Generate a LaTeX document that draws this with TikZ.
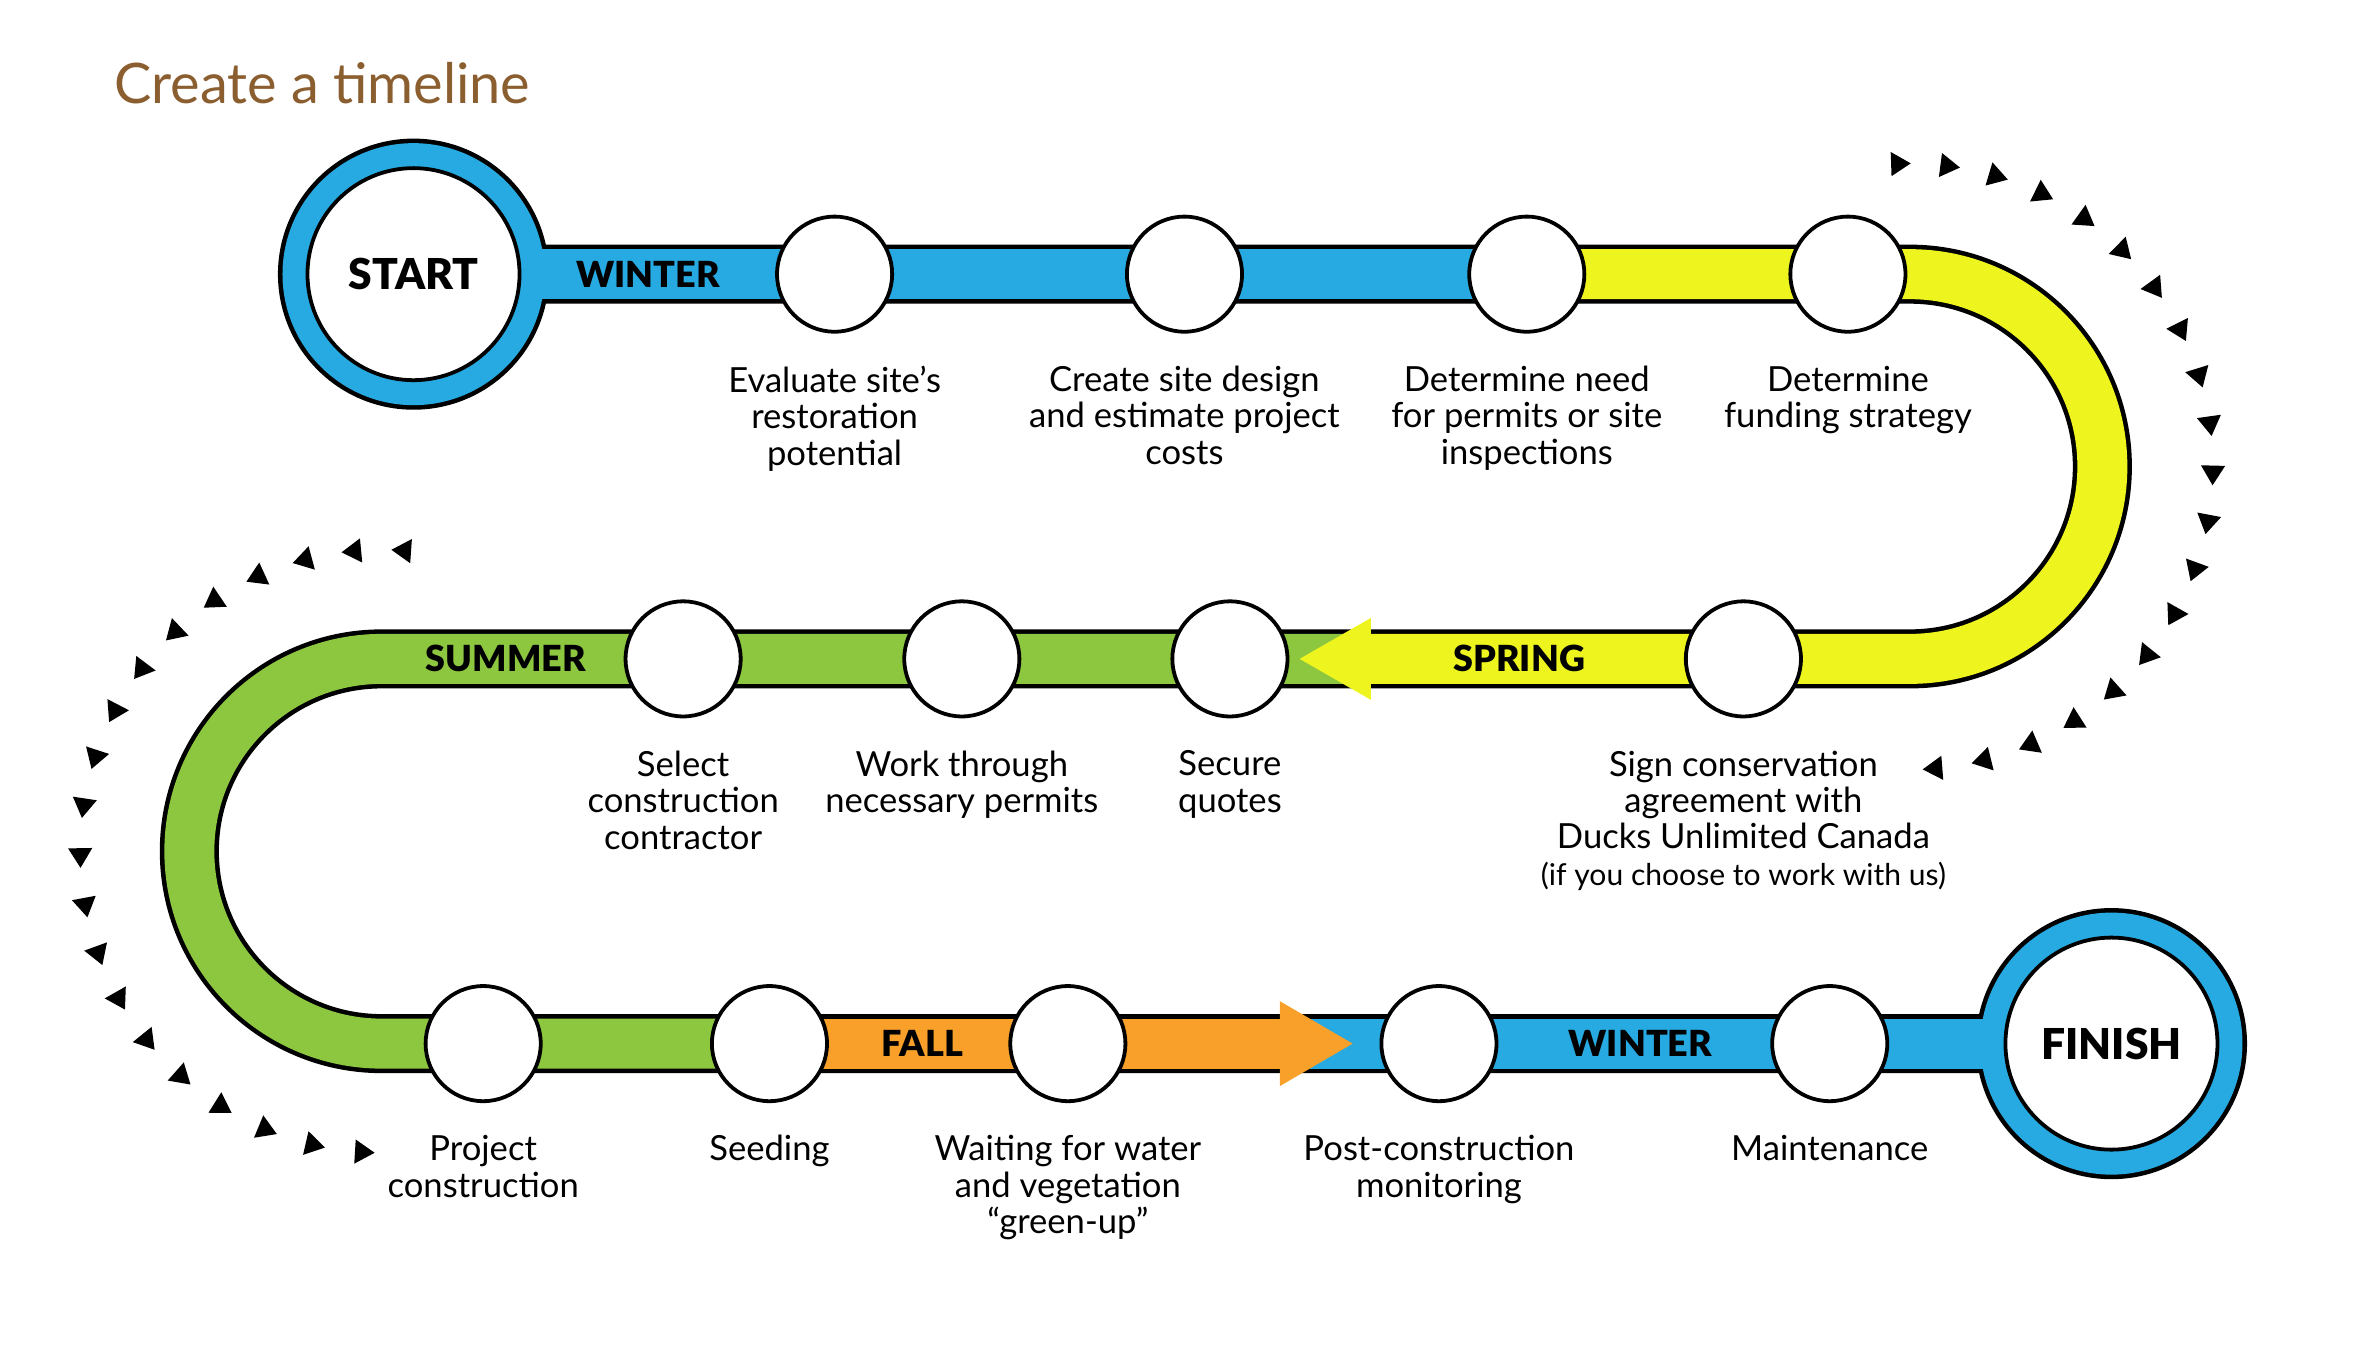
\documentclass[tikz,border=0pt]{standalone}
\usepackage{fontspec}
\setmainfont{Lato}
\newfontfamily\heavyfont{Lato Black}
\usetikzlibrary{positioning,backgrounds}

\definecolor{winterblue}{RGB}{39,170,225}
\definecolor{springyellow}{RGB}{238,245,30}
\definecolor{summergreen}{RGB}{141,198,63}
\definecolor{fallorange}{RGB}{248,160,42}
\definecolor{titlebrown}{RGB}{139,94,48}

\begin{document}
\begin{tikzpicture}
[x=0.2mm, y=0.2mm,
% STYLES
milestone/.style={circle, draw, line width=0.5mm, fill=white, inner sep=0pt, minimum size=15.2mm},
endpoint/.style={circle, draw, line width=0.5mm, fill=white, inner sep=0pt, minimum size=28mm, font=\fontsize{16}{18}\selectfont\heavyfont},
desc/.style={align=center, inner sep=0pt, font=\fontsize{13}{13.7}\selectfont},
season/.style={font=\fontsize{13.5}{15}\selectfont\heavyfont},
% the track: a black band below, the season colour on top of it
trackline/.style={line width=7.8mm, black},
trackfill/.style={line width=6.6mm},
dart/.style={fill=black}]

\useasboundingbox (0,0) rectangle (1568,-890);

\node[anchor=west, inner sep=0pt, text=titlebrown, font=\fontsize{21}{24}\selectfont] (title) at (75,-55) {Create a timeline};

% Ends
\node[endpoint] (start) at (273,-181) {START};
\node[endpoint] (finish) at (1394,-689) {FINISH};

% Top row
\node[milestone] (c1) at (551,-181) {};
\node[milestone] (c2) at (782,-181) {};
\node[milestone] (c3) at (1008,-181) {};
\node[milestone] (c4) at (1220,-181) {};
% Middle row
\node[milestone] (c5) at (1151,-435) {};
\node[milestone] (c6) at (812,-435) {};
\node[milestone] (c7) at (635,-435) {};
\node[milestone] (c8) at (451,-435) {};
% Bottom row
\node[milestone] (c9) at (319,-689) {};
\node[milestone] (c10) at (508,-689) {};
\node[milestone] (c11) at (705,-689) {};
\node[milestone] (c12) at (950,-689) {};
\node[milestone] (c13) at (1208,-689) {};

% Texts under the circles
\node[desc, below=4.2mm of c1] (c1-text) {Evaluate site’s\\restoration\\potential};
\node[desc, below=4.2mm of c2] (c2-text) {Create site design\\and estimate project\\costs};
\node[desc, below=4.2mm of c3] (c3-text) {Determine need\\for permits or site\\inspections};
\node[desc, below=4.2mm of c4] (c4-text) {Determine\\funding strategy};
\node[desc, below=4.2mm of c5] (c5-text) {Sign conservation\\agreement with\\Ducks Unlimited Canada\\{\fontsize{11.3}{12}\selectfont(if you choose to work with us)}};
\node[desc, below=4.2mm of c6] (c6-text) {Secure\\quotes};
\node[desc, below=4.2mm of c7] (c7-text) {Work through\\necessary permits};
\node[desc, below=4.2mm of c8] (c8-text) {Select\\construction\\contractor};
\node[desc, below=4.2mm of c9] (c9-text) {Project\\construction};
\node[desc, below=4.2mm of c10] (c10-text) {Seeding};
\node[desc, below=4.2mm of c11] (c11-text) {Waiting for water\\and vegetation\\“green-up”};
\node[desc, below=4.2mm of c12] (c12-text) {Post-construction\\monitoring};
\node[desc, below=4.2mm of c13] (c13-text) {Maintenance};

% Seasons
\node[season] (winter-a) at (428,-181) {WINTER};
\node[season] (spring) at (1003,-435) {SPRING};
\node[season] (summer) at (334,-435) {SUMMER};
\node[season] (fall) at (609,-689) {FALL};
\node[season] (winter-b) at (1083,-689) {WINTER};

\coordinate (turnR) at (1261,-181);
\coordinate (turnL) at (252,-435);
\coordinate (springtail) at (905,-435);
\coordinate (fallhead) at (845,-689);
\coordinate (rc) at (1261,-308);
\coordinate (lc) at (252,-562);

%%%%%%%%%%%%%%%%

\begin{scope}[on background layer]
\fill (start.center) circle (89.5) (finish.center) circle (89.5);
\draw[trackline] (start.center) -- (turnR) arc[start angle=90, end angle=-90, radius=127]
  -- (turnL) arc[start angle=90, end angle=270, radius=127] -- (finish.center);
\fill[winterblue] (start.center) circle (86.5) (finish.center) circle (86.5);
\draw[trackfill, winterblue] (start.center) -- (c3.center);
\draw[trackfill, springyellow] (c3.center) -- (turnR) arc[start angle=90, end angle=-90, radius=127] -- (springtail);
\draw[trackfill, summergreen] (springtail) -- (turnL) arc[start angle=90, end angle=270, radius=127] -- (c10.center);
\draw[trackfill, fallorange] (c10.center) -- (fallhead);
\draw[trackfill, winterblue] (fallhead) -- (finish.center);
\fill[springyellow] (springtail) ++(0,27) -- ++(-47,-27) -- ++(47,-27) -- cycle;
\fill[fallorange] (fallhead) ++(0,28) -- ++(48,-28) -- ++(-48,-28) -- cycle;
\end{scope}

% Darts round the two turns
\foreach \i [evaluate=\i as \a using 92-9.34*\i] in {0,...,19}
  \fill[dart, shift={(rc)}, shift={(\a:200)}, rotate=\a-90] (7.5,0) -- (-5.5,8) -- (-5.5,-8) -- cycle;
\foreach \i [evaluate=\i as \a using 86+9.5*\i] in {0,...,19}
  \fill[dart, shift={(lc)}, shift={(\a:199)}, rotate=\a+90] (7.5,0) -- (-5.5,8) -- (-5.5,-8) -- cycle;

\end{tikzpicture}
\end{document}
